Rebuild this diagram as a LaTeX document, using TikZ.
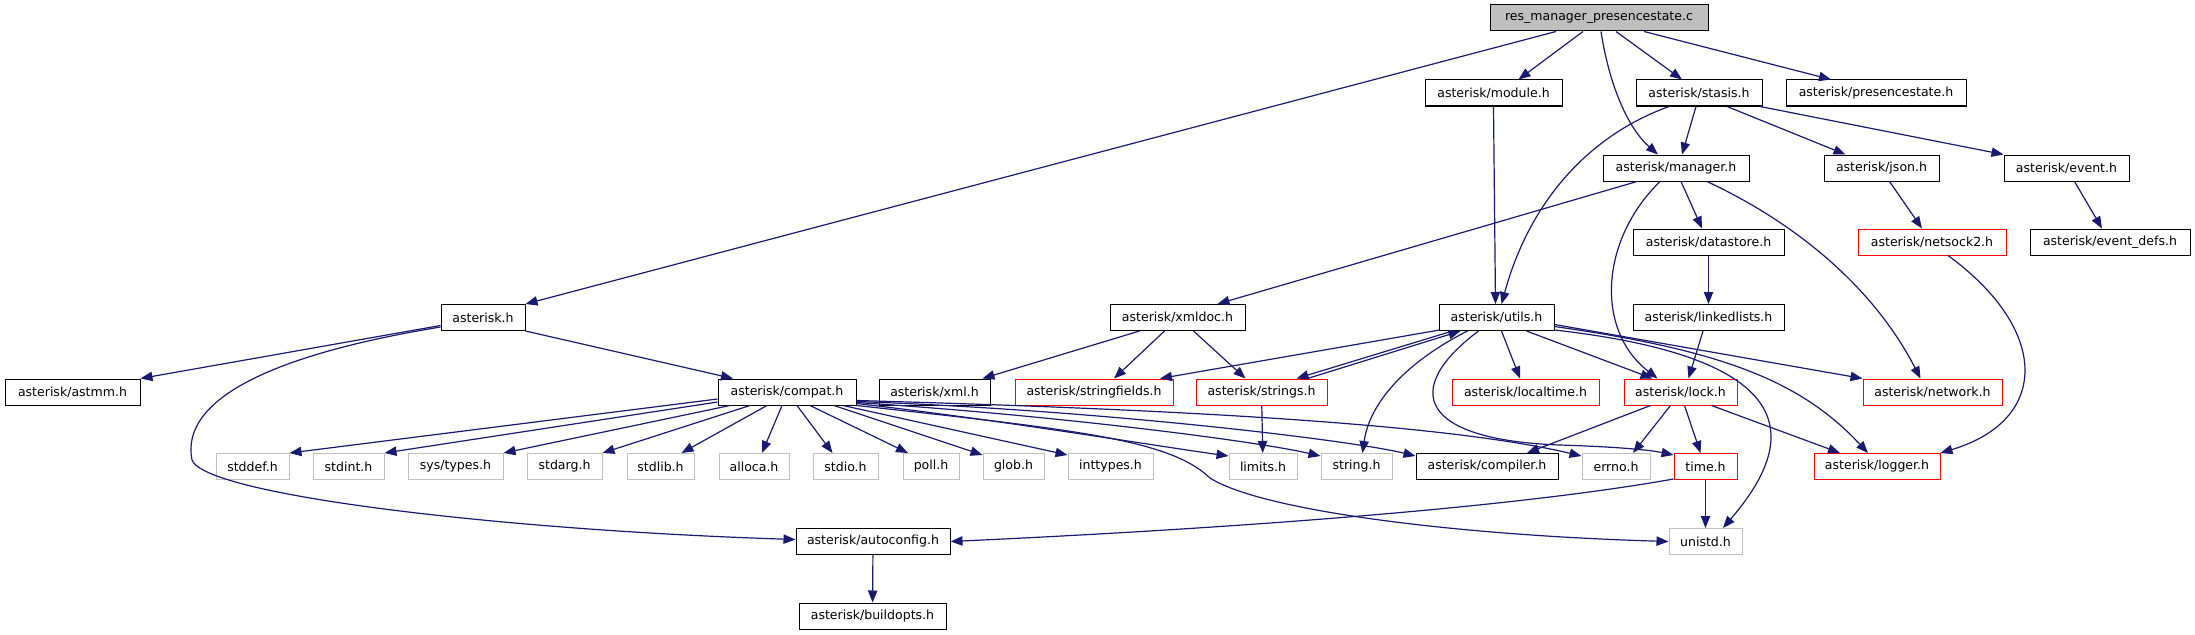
\documentclass[tikz,border=0pt]{standalone}
\usepackage{fontspec}
\setmainfont{DejaVu Sans}
\usetikzlibrary{arrows.meta,calc}
\definecolor{edgec}{HTML}{191970}
\definecolor{grayb}{HTML}{BFBFBF}
\definecolor{redb}{HTML}{FF0000}
\begin{document}
\begin{tikzpicture}[x=0.75pt,y=-0.75pt,
  bx/.style={draw=black, line width=0.75pt, inner sep=0pt, minimum height=19.5pt, font=\fontsize{9.4}{11}\selectfont, fill=white},
  rb/.style={bx, draw=redb},
  gb/.style={bx, draw=grayb},
  bw/.style={minimum width=#1*0.75pt},
  edge/.style={draw=edgec, line width=0.9pt, -{Triangle[length=9pt,width=7pt]}}]
\useasboundingbox (0,0) rectangle (2195,635);
% row 0
\node[bx,bw=218,fill=grayb] (res) at (1599,18) {res\_manager\_presencestate.c};
% row 1
\node[bx,bw=137] (module) at (1493.5,93) {asterisk/module.h};
\node[bx,bw=126] (stasis) at (1699,93) {asterisk/stasis.h};
\node[bx,bw=180] (presence) at (1876,93) {asterisk/presencestate.h};
% row 2
\node[bx,bw=146] (manager) at (1676,168) {asterisk/manager.h};
\node[bx,bw=115] (json) at (1881.5,168) {asterisk/json.h};
\node[bx,bw=125] (event) at (2066.5,168) {asterisk/event.h};
% row 3
\node[bx,bw=151] (datastore) at (1708.5,242) {asterisk/datastore.h};
\node[rb,bw=148] (netsock) at (1932,242) {asterisk/netsock2.h};
\node[bx,bw=160] (eventdefs) at (2110,242) {asterisk/event\_defs.h};
% row 4
\node[bx,bw=84] (asterisk) at (483,317.5) {asterisk.h};
\node[bx,bw=135] (xmldoc) at (1177.5,317.5) {asterisk/xmldoc.h};
\node[bx,bw=115] (utils) at (1496.5,317.5) {asterisk/utils.h};
\node[bx,bw=151] (linkedlists) at (1708.5,317.5) {asterisk/linkedlists.h};
% row 5
\node[bx,bw=135] (astmm) at (72.5,392) {asterisk/astmm.h};
\node[bx,bw=138] (compat) at (787,392) {asterisk/compat.h};
\node[bx,bw=111] (xml) at (934.5,392) {asterisk/xml.h};
\node[rb,bw=158] (stringfields) at (1094,392) {asterisk/stringfields.h};
\node[rb,bw=131] (strings) at (1261.5,392) {asterisk/strings.h};
\node[rb,bw=147] (localtime) at (1525.5,392) {asterisk/localtime.h};
\node[rb,bw=113] (lock) at (1680.5,392) {asterisk/lock.h};
\node[rb,bw=139] (network) at (1932.5,392) {asterisk/network.h};
% row 6
\node[gb,bw=73] (stddef) at (252.5,466.5) {stddef.h};
\node[gb,bw=71] (stdint) at (348.5,466.5) {stdint.h};
\node[gb,bw=95] (systypes) at (455.5,466.5) {sys/types.h};
\node[gb,bw=75] (stdarg) at (564.5,466.5) {stdarg.h};
\node[gb,bw=67] (stdlib) at (660.5,466.5) {stdlib.h};
\node[gb,bw=70] (alloca) at (754,466.5) {alloca.h};
\node[gb,bw=65] (stdio) at (845.5,466.5) {stdio.h};
\node[gb,bw=56] (poll) at (931,466.5) {poll.h};
\node[gb,bw=61] (glob) at (1013.5,466.5) {glob.h};
\node[gb,bw=85] (inttypes) at (1110.5,466.5) {inttypes.h};
\node[gb,bw=68] (limits) at (1263,466.5) {limits.h};
\node[gb,bw=71] (string) at (1356.5,466.5) {string.h};
\node[bx,bw=142] (compiler) at (1487,466.5) {asterisk/compiler.h};
\node[gb,bw=68] (errno) at (1616,466.5) {errno.h};
\node[rb,bw=63] (time) at (1705.5,466.5) {time.h};
\node[rb,bw=126] (logger) at (1877,466.5) {asterisk/logger.h};
% row 7
\node[bx,bw=154] (autoconfig) at (873,541.5) {asterisk/autoconfig.h};
\node[gb,bw=73] (unistd) at (1705.5,541.5) {unistd.h};
% row 8
\node[bx,bw=147] (buildopts) at (872.5,616) {asterisk/buildopts.h};

% edges
\draw[edge] ($(res.south)+(-43,0)$) -- (asterisk.north east);
\draw[edge] ($(res.south)+(-16,0)$) -- ($(module.north)+(25,0)$);
\draw[edge] ($(res.south)+(2,0)$) .. controls (1610,90) and (1630,130) .. ($(manager.north)+(-18,0)$);
\draw[edge] ($(res.south)+(17,0)$) -- ($(stasis.north)+(-17,0)$);
\draw[edge] ($(res.south)+(45,0)$) -- ($(presence.north)+(-45,0)$);
\draw[edge] (module.south) -- ($(utils.north)+(-1,0)$);
\draw[edge] ($(stasis.south)+(-30,0)$) .. controls (1590,135) and (1530,200) .. ($(utils.north)+(5,0)$);
\draw[edge] ($(stasis.south)+(-3,0)$) -- ($(manager.north)+(6,0)$);
\draw[edge] ($(stasis.south)+(28,0)$) -- ($(json.north)+(-36,0)$);
\draw[edge] ($(stasis.south)+(61,0)$) -- (event.north west);
\draw[edge] ($(manager.south)+(-39,0)$) -- ($(xmldoc.north)+(40,0)$);
\draw[edge] ($(manager.south)+(-16,0)$) .. controls (1600,240) and (1595,330) .. ($(lock.north)+(-23,0)$);
\draw[edge] ($(manager.south)+(5,0)$) -- ($(datastore.north)+(-6.5,0)$);
\draw[edge] ($(manager.south)+(31,0)$) .. controls (1800,225) and (1875,290) .. ($(network.north)+(-12,0)$);
\draw[edge] ($(json.south)+(8,0)$) -- ($(netsock.north)+(-10,0)$);
\draw[edge] ($(event.south)+(8,0)$) -- ($(eventdefs.north)+(-8,0)$);
\draw[edge] (datastore) -- (linkedlists);
\draw[edge] ($(netsock.south)+(16,0)$) .. controls (2050,330) and (2050,420) .. (logger.north east);
\draw[edge] ($(linkedlists.south)+(-5.5,0)$) -- ($(lock.north)+(8,0)$);
\draw[edge] ($(asterisk.west)+(0,8)$) -- (astmm.north east);
\draw[edge] ($(asterisk.west)+(0,9.5)$) .. controls (270,355) and (180,400) .. (192,460) .. controls (205,495) and (500,530) .. ($(autoconfig.west)+(0,-2)$);
\draw[edge] (asterisk.south east) -- ($(compat.north)+(-54,0)$);
\draw[edge] ($(xmldoc.south)+(-38,0)$) -- ($(xml.north)+(48,0)$);
\draw[edge] ($(xmldoc.south)+(-13,0)$) -- ($(stringfields.north)+(20,0)$);
\draw[edge] ($(xmldoc.south)+(16,0)$) -- ($(strings.north)+(-16,0)$);
\draw[edge] ($(utils.south west)+(1,-1)$) -- ($(stringfields.north)+(66,0)$);
\draw[edge] ($(utils.south)+(-44,0)$) -- ($(strings.north)+(35,0)$);
\draw[edge] ($(strings.north)+(46,0)$) -- ($(utils.south)+(-36,0)$);
\draw[edge] ($(utils.south)+(-29,0)$) .. controls (1410,360) and (1370,400) .. ($(string.north)+(6,0)$);
\draw[edge] ($(utils.south)+(5,0)$) -- ($(localtime.north)+(-5.5,0)$);
\draw[edge] ($(utils.south)+(30,0)$) -- ($(lock.north)+(-28,0)$);
\draw[edge] ($(utils.east)+(0,7)$) -- (network.north west);
\draw[edge] ($(utils.east)+(0,9)$) .. controls (1720,350) and (1800,380) .. ($(logger.north)+(-9,0)$);
\draw[edge] ($(utils.south east)+(0,-1)$) .. controls (1820,360) and (1790,450) .. ($(unistd.north)+(17.5,0)$);
\draw[edge] ($(utils.south)+(-18,0)$) .. controls (1400,390) and (1420,440) .. (1560,445) .. controls (1620,447) and (1650,450) .. ($(time.north west)+(0,2)$);
\draw[edge] (strings) -- (limits);
\draw[edge] ($(compat.west)+(0,7)$) -- (stddef.north east);
\draw[edge] ($(compat.west)+(0,10)$) -- (stdint.north east);
\draw[edge] ($(compat.south)+(-57,0)$) -- (systypes.north east);
\draw[edge] ($(compat.south)+(-37,0)$) -- (stdarg.north east);
\draw[edge] ($(compat.south)+(-20,0)$) -- ($(stdlib.north)+(21,0)$);
\draw[edge] ($(compat.south)+(-5,0)$) -- ($(alloca.north)+(8,0)$);
\draw[edge] ($(compat.south)+(10,0)$) -- ($(stdio.north)+(-13,0)$);
\draw[edge] ($(compat.south)+(23,0)$) -- ($(poll.north)+(-23,0)$);
\draw[edge] ($(compat.south)+(47,0)$) -- ($(glob.north west)+(0,2)$);
\draw[edge] ($(compat.south)+(56,0)$) -- ($(inttypes.north west)+(0,2)$);
\draw[edge] ($(compat.south east)+(0,-2)$) .. controls (1000,420) and (1150,445) .. ($(limits.north west)+(0,3)$);
\draw[edge] ($(compat.south east)+(0,-3)$) .. controls (1050,415) and (1250,440) .. ($(string.north west)+(0,3)$);
\draw[edge] ($(compat.south east)+(0,-4)$) .. controls (1100,410) and (1350,440) .. ($(compiler.north west)+(0,3)$);
\draw[edge] ($(compat.south east)+(0,-5)$) .. controls (1200,410) and (1450,425) .. ($(errno.north west)+(0,3)$);
\draw[edge] (compat.south east) .. controls (1080,430) and (1170,440) .. (1210,478) .. controls (1260,510) and (1450,535) .. (unistd.west);
\draw[edge] (time) -- (unistd);
\draw[edge] ($(time.south west)+(0,-1)$) .. controls (1500,510) and (1200,530) .. (autoconfig.east);
\draw[edge] ($(lock.south)+(-30,0)$) -- ($(compiler.north)+(40,0)$);
\draw[edge] ($(lock.south)+(-10,0)$) -- ($(errno.north)+(17,0)$);
\draw[edge] ($(lock.south)+(4,0)$) -- ($(time.north)+(-5,0)$);
\draw[edge] ($(lock.south)+(31,0)$) -- ($(logger.north)+(-37,0)$);
\draw[edge] (autoconfig) -- (buildopts);
\end{tikzpicture}
\end{document}
